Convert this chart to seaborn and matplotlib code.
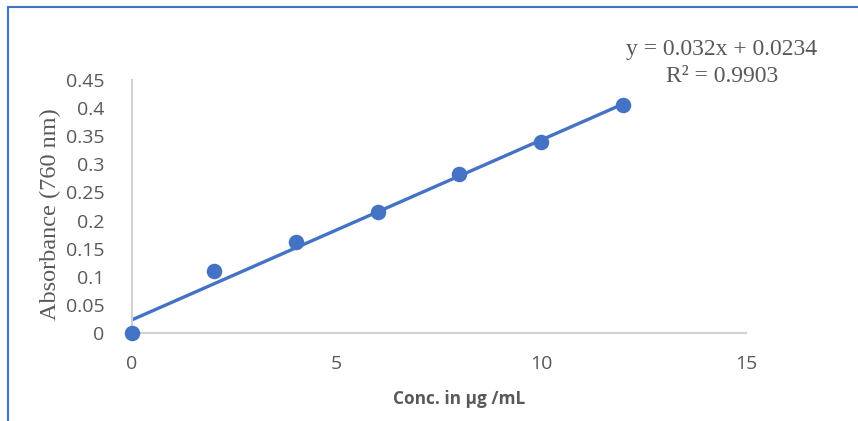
import matplotlib
matplotlib.use("Agg")
import matplotlib.pyplot as plt
from matplotlib.lines import Line2D
import numpy as np
import pandas as pd
import seaborn as sns

# Calibration data
concentration = [0, 2, 4, 6, 8, 10, 12]
absorbance = [0.0, 0.110, 0.162, 0.215, 0.283, 0.340, 0.406]

# Linear trendline reported on the chart
slope = 0.032
intercept = 0.0234
r_squared = 0.9903

x_ticks = [0, 5, 10, 15]
y_ticks = [0, 0.05, 0.1, 0.15, 0.2, 0.25, 0.3, 0.35, 0.4, 0.45]

blue = "#4472C4"
grey_text = "#595959"
axis_grey = "#D0D0D0"
serif = ["Liberation Serif", "DejaVu Serif"]

sns.set_theme(style="white")
plt.rcParams["font.family"] = ["Open Sans", "DejaVu Sans"]

fig = plt.figure(figsize=(8.58, 4.21), dpi=100)
ax = fig.add_axes([132 / 858, 88 / 421, 614 / 858, 253 / 421])

df = pd.DataFrame({"conc": concentration, "abs": absorbance})
x_fit = np.array([min(concentration), max(concentration)], dtype=float)
fit_df = pd.DataFrame({"conc": x_fit, "abs": slope * x_fit + intercept})

sns.lineplot(data=fit_df, x="conc", y="abs", color=blue, linewidth=2.4, ax=ax, zorder=2)
sns.scatterplot(data=df, x="conc", y="abs", color=blue, s=125, edgecolor=blue,
                linewidth=0, ax=ax, zorder=3, clip_on=False)

ax.set_xlim(0, 15)
ax.set_ylim(0, 0.45)
ax.set_xticks(x_ticks)
ax.set_xticklabels([f"{t:g}" for t in x_ticks])
ax.set_yticks(y_ticks)
ax.set_yticklabels([f"{t:g}" for t in y_ticks])
ax.tick_params(axis="both", length=0, labelsize=14, labelcolor=grey_text)
ax.tick_params(axis="y", pad=20)
ax.tick_params(axis="x", pad=16)

for side in ("top", "right"):
    ax.spines[side].set_visible(False)
for side in ("left", "bottom"):
    ax.spines[side].set_color(axis_grey)
    ax.spines[side].set_linewidth(1.5)

ax.set_xlabel("")
ax.set_ylabel("")

# Axis titles
fig.text(459 / 858, 1 - 399 / 421, "Conc. in µg /mL", ha="center", va="center",
         fontsize=12.4, fontweight="bold", color=grey_text)
fig.text(50 / 858, 1 - 214 / 421, "Absorbance (760 nm)", ha="center", va="center",
         rotation=90, fontsize=17.5, color=grey_text, family=serif)

# Trendline equation
fig.text(722 / 858, 1 - 50 / 421, f"y = {slope}x + {intercept}", ha="center", va="center",
         fontsize=17, color=grey_text, family=serif)
fig.text(722 / 858, 1 - 76 / 421, f"R² = {r_squared}", ha="center", va="center",
         fontsize=17, color=grey_text, family=serif)

# Blue frame on the left and top edges
fig.add_artist(Line2D([8 / 858, 8 / 858], [0, 1 - 7 / 421], color=blue, linewidth=1.5,
                      transform=fig.transFigure))
fig.add_artist(Line2D([8 / 858, 1], [1 - 7 / 421, 1 - 7 / 421], color=blue, linewidth=1.5,
                      transform=fig.transFigure))

fig.savefig("out.png", dpi=100)
